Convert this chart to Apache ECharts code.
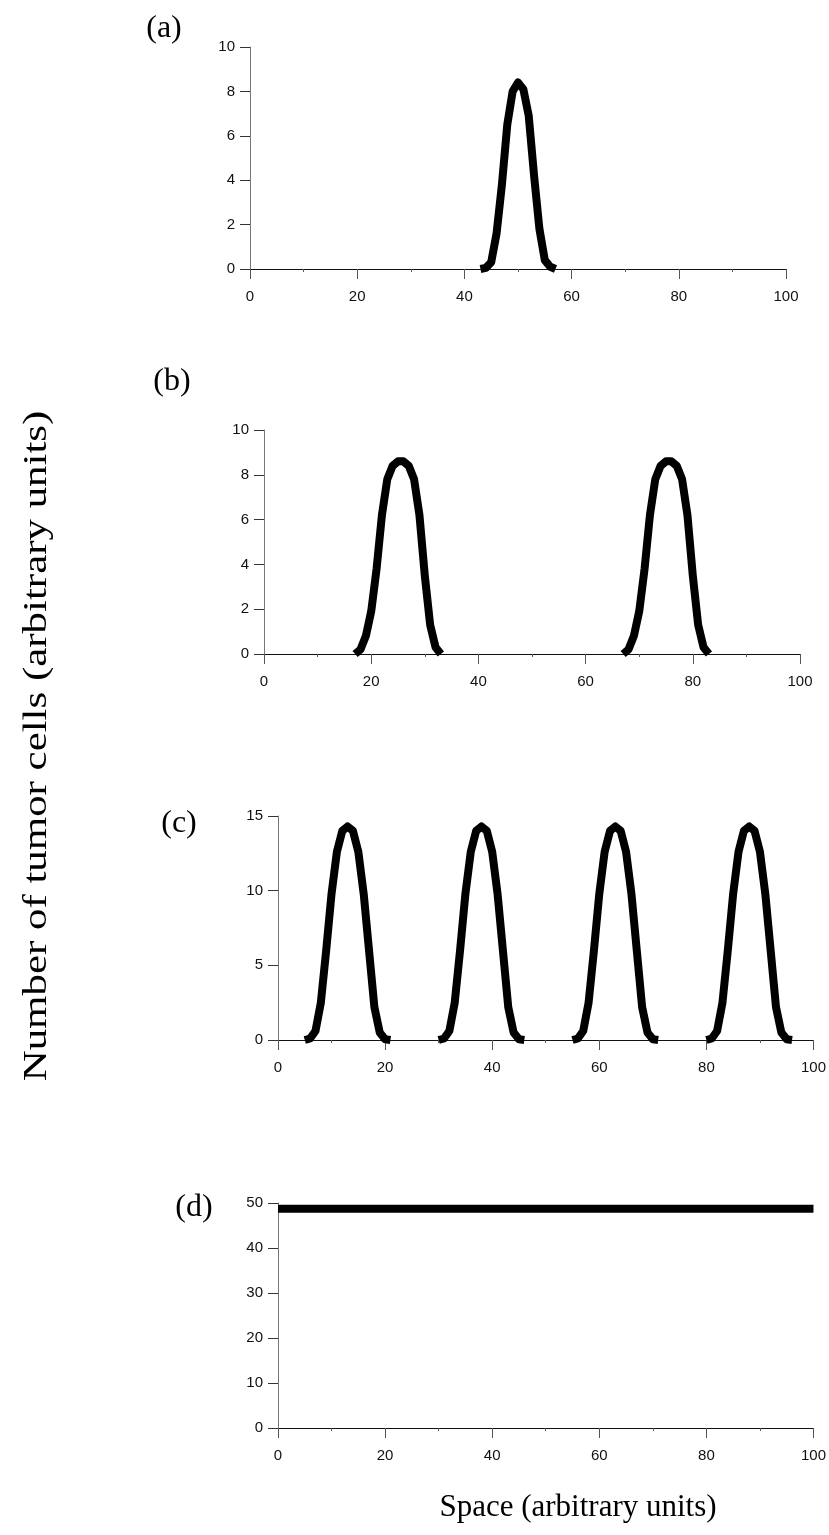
<!DOCTYPE html>
<html>
<head>
<meta charset="utf-8">
<script src="https://cdn.jsdelivr.net/npm/echarts@6/dist/echarts.min.js"></script>
<style>
html,body{margin:0;padding:0;background:#fff;}
#chart{width:829px;height:1535px;}
</style>
</head>
<body>
<div id="chart"></div>
<script>
// ---------- data ----------
const panelLabels = ['(a)', '(b)', '(c)', '(d)'];
const yTitle = 'Number of tumor cells (arbitrary units)';
const xTitle = 'Space (arbitrary units)';

const xTicks = [0, 20, 40, 60, 80, 100];
const yTicksA = [0, 2, 4, 6, 8, 10];
const yTicksB = [0, 2, 4, 6, 8, 10];
const yTicksC = [0, 5, 10, 15];
const yTicksD = [0, 10, 20, 30, 40, 50];

// (a) single peak
const xA = [43, 44, 45, 46, 47, 48, 49, 50, 51, 52, 53, 54, 55, 56, 57];
const yA = [0, 0.05, 0.3, 1.6, 3.8, 6.5, 8.0, 8.4, 8.1, 6.9, 4.2, 1.8, 0.4, 0.1, 0];

// (b) two peaks
const xB1 = [17, 18, 19, 20, 21, 22, 23, 24, 25, 26, 27, 28, 29, 30, 31, 32, 33];
const yB1 = [0, 0.2, 0.8, 1.9, 3.8, 6.2, 7.8, 8.4, 8.6, 8.6, 8.4, 7.8, 6.2, 3.5, 1.3, 0.3, 0];
const xB2 = [67, 68, 69, 70, 71, 72, 73, 74, 75, 76, 77, 78, 79, 80, 81, 82, 83];
const yB2 = [0, 0.2, 0.8, 1.9, 3.8, 6.2, 7.8, 8.4, 8.6, 8.6, 8.4, 7.8, 6.2, 3.5, 1.3, 0.3, 0];

// (c) four peaks
const xC1 = [5, 6, 7, 8, 9, 10, 11, 12, 13, 14, 15, 16, 17, 18, 19, 20, 21];
const yC1 = [0, 0.1, 0.6, 2.5, 6.0, 9.8, 12.6, 14.0, 14.3, 14.0, 12.6, 9.8, 6.0, 2.2, 0.5, 0.05, 0];
const xC2 = [30, 31, 32, 33, 34, 35, 36, 37, 38, 39, 40, 41, 42, 43, 44, 45, 46];
const yC2 = [0, 0.1, 0.6, 2.5, 6.0, 9.8, 12.6, 14.0, 14.3, 14.0, 12.6, 9.8, 6.0, 2.2, 0.5, 0.05, 0];
const xC3 = [55, 56, 57, 58, 59, 60, 61, 62, 63, 64, 65, 66, 67, 68, 69, 70, 71];
const yC3 = [0, 0.1, 0.6, 2.5, 6.0, 9.8, 12.6, 14.0, 14.3, 14.0, 12.6, 9.8, 6.0, 2.2, 0.5, 0.05, 0];
const xC4 = [80, 81, 82, 83, 84, 85, 86, 87, 88, 89, 90, 91, 92, 93, 94, 95, 96];
const yC4 = [0, 0.1, 0.6, 2.5, 6.0, 9.8, 12.6, 14.0, 14.3, 14.0, 12.6, 9.8, 6.0, 2.2, 0.5, 0.05, 0];

// (d) flat line
const xD = [0, 100];
const yD = [48.7, 48.7];

// ---------- build ----------
const zip = (xs, ys) => xs.map((x, i) => [x, ys[i]]);

const grids = [
  {left: 250, top: 47,   width: 536, height: 222},
  {left: 264, top: 430,  width: 536, height: 224},
  {left: 278, top: 816,  width: 539, height: 224},
  {left: 278, top: 1203, width: 536, height: 225}
];
const yTickSets = [yTicksA, yTicksB, yTicksC, yTicksD];

const tickFont = {fontFamily: 'Liberation Sans, Arial, sans-serif', fontSize: 15, color: '#111'};

const xAxes = grids.map((g, i) => ({
  type: 'value', gridIndex: i,
  min: xTicks[0], max: xTicks[xTicks.length - 1], interval: xTicks[1] - xTicks[0],
  axisLine: {show: true, onZero: true, lineStyle: {color: '#111', width: 1}},
  axisTick: {show: true, inside: false, length: 10, lineStyle: {color: '#555', width: 1}},
  minorTick: {show: true, splitNumber: 2, length: 3, lineStyle: {color: '#555'}},
  axisLabel: Object.assign({margin: 20}, tickFont),
  splitLine: {show: false}
}));

const yAxes = yTickSets.map((t, i) => ({
  type: 'value', gridIndex: i,
  min: t[0], max: t[t.length - 1], interval: t[1] - t[0],
  axisLine: {show: true, lineStyle: {color: '#777', width: 1}},
  axisTick: {show: true, inside: false, length: 10, lineStyle: {color: '#333', width: 1}},
  axisLabel: Object.assign({margin: 15}, tickFont),
  splitLine: {show: false}
}));

const lineStyle = {color: '#000', width: 8, cap: 'butt', join: 'round'};
function mk(i, data, w) {
  return {
    type: 'line', xAxisIndex: i, yAxisIndex: i, data: data,
    showSymbol: false, symbol: 'none', smooth: false, animation: false,
    lineStyle: Object.assign({}, lineStyle, w ? {width: w} : {}),
    z: 5
  };
}

const series = [
  mk(0, zip(xA, yA)),
  mk(1, zip(xB1, yB1)), mk(1, zip(xB2, yB2)),
  mk(2, zip(xC1, yC1)), mk(2, zip(xC2, yC2)), mk(2, zip(xC3, yC3)), mk(2, zip(xC4, yC4)),
  mk(3, zip(xD, yD), 8)
];

const labelPos = [[164, 29], [172, 382], [179, 824], [194, 1208]];
const serif = 'Liberation Serif, Times New Roman, serif';

const graphic = labelPos.map((p, i) => ({
  type: 'text', x: p[0], y: p[1],
  style: {text: panelLabels[i], font: '32px ' + serif, fill: '#000', textAlign: 'center', textVerticalAlign: 'middle'}
}));
graphic.push({
  type: 'text', x: 37, y: 746, rotation: Math.PI / 2, scaleX: 1.3, scaleY: 1,
  style: {text: yTitle, font: '33px ' + serif, fill: '#000', textAlign: 'center', textVerticalAlign: 'middle'}
});
graphic.push({
  type: 'text', x: 578, y: 1508,
  style: {text: xTitle, font: '31px ' + serif, fill: '#000', textAlign: 'center', textVerticalAlign: 'middle'}
});

const chart = echarts.init(document.getElementById('chart'), null, {renderer: 'canvas'});
chart.setOption({
  animation: false,
  backgroundColor: '#fff',
  grid: grids,
  xAxis: xAxes,
  yAxis: yAxes,
  series: series,
  graphic: graphic
});
</script>
</body>
</html>
